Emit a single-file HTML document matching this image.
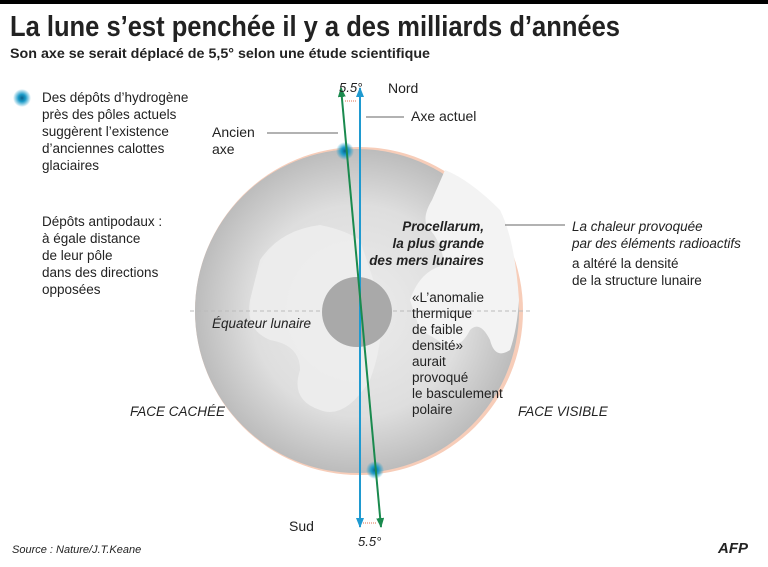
<!DOCTYPE html>
<html><head><meta charset="utf-8"><style>
body{margin:0;background:#fff;width:768px;height:567px;overflow:hidden}
svg{display:block}
text{font-family:"Liberation Sans",sans-serif;fill:#222}
</style></head><body>
<svg width="768" height="567" viewBox="0 0 768 567">
<defs>
<radialGradient id="moon" cx="0.5" cy="0.5" r="0.5">
<stop offset="0" stop-color="#ececec"/><stop offset="0.65" stop-color="#dedede"/><stop offset="1" stop-color="#bcbcbc"/>
</radialGradient>
<radialGradient id="glow"><stop offset="0" stop-color="#0a5f8a"/><stop offset="0.4" stop-color="#1a9ac8"/><stop offset="1" stop-color="#1a9ac8" stop-opacity="0"/></radialGradient>
<marker id="ab" markerWidth="10" markerHeight="8" refX="9" refY="4" orient="auto-start-reverse" markerUnits="userSpaceOnUse"><path d="M0,0 L10,4 L0,8 Z" fill="#1f9ad0"/></marker>
<marker id="ag" markerWidth="10" markerHeight="8" refX="9" refY="4" orient="auto-start-reverse" markerUnits="userSpaceOnUse"><path d="M0,0 L10,4 L0,8 Z" fill="#1a8a4e"/></marker>
</defs>
<rect x="0" y="0" width="768" height="4" fill="#000"/>
<text x="10" y="36" font-size="29" font-weight="bold" fill="#111" textLength="610" lengthAdjust="spacingAndGlyphs">La lune s’est penchée il y a des milliards d’années</text>
<text x="10" y="58" font-size="14" font-weight="bold" fill="#222" textLength="420" lengthAdjust="spacingAndGlyphs">Son axe se serait déplacé de 5,5° selon une étude scientifique</text>
<!-- moon -->
<circle cx="359" cy="311" r="164" fill="#f7cdb9"/>
<circle cx="357" cy="311" r="162" fill="url(#moon)"/>
<path d="M445,170 Q470,180 500,210 Q515,240 519,300 Q517,330 510,350 Q495,360 490,340 Q480,320 470,330 Q460,350 445,345 Q430,335 420,330 L410,300 Q420,270 445,265 Q440,240 430,230 Q420,220 432,200 Z" fill="#f3f3f3"/>
<path d="M260,260 Q280,230 320,225 Q345,230 360,240 Q370,270 380,300 Q385,340 370,380 Q345,420 320,410 Q290,400 300,370 Q300,345 270,340 Q245,330 250,300 Z" fill="#efefef" opacity="0.8"/>
<line x1="190" y1="311" x2="530" y2="311" stroke="#bbb" stroke-dasharray="4,3" stroke-width="1"/>
<circle cx="357" cy="312" r="35" fill="#a9a9a9"/>
<circle cx="345" cy="151" r="9" fill="url(#glow)"/>
<circle cx="375" cy="470" r="9" fill="url(#glow)"/>
<circle cx="22" cy="98" r="9" fill="url(#glow)"/>
<!-- axes -->
<line x1="360" y1="527" x2="360" y2="88" stroke="#1f9ad0" stroke-width="2" marker-end="url(#ab)" marker-start="url(#ab)"/>
<line x1="381" y1="527" x2="341" y2="88" stroke="#1a8a4e" stroke-width="2" marker-end="url(#ag)" marker-start="url(#ag)"/>
<line x1="345" y1="101" x2="357" y2="101" stroke="#e07050" stroke-dasharray="1,1"/>
<line x1="363" y1="523" x2="377" y2="523" stroke="#e07050" stroke-dasharray="1,1"/>
<text x="339" y="92" font-size="13" font-style="italic" fill="#888">5.5°</text>
<text x="358" y="546" font-size="13" font-style="italic" fill="#888">5.5°</text>
<text x="388" y="93" font-size="14">Nord</text>
<line x1="366" y1="117" x2="404" y2="117" stroke="#666"/>
<text x="411" y="121" font-size="14">Axe actuel</text>
<text x="212" y="137" font-size="14">Ancien</text><text x="212" y="154" font-size="14">axe</text>
<line x1="267" y1="133" x2="338" y2="133" stroke="#666"/>
<text x="289" y="531" font-size="14">Sud</text>
<g font-size="13.5">
<text x="42" y="102">Des dépôts d’hydrogène</text>
<text x="42" y="119">près des pôles actuels</text>
<text x="42" y="136">suggèrent l’existence</text>
<text x="42" y="153">d’anciennes calottes</text>
<text x="42" y="170">glaciaires</text>
<text x="42" y="226">Dépôts antipodaux :</text>
<text x="42" y="243">à égale distance</text>
<text x="42" y="260">de leur pôle</text>
<text x="42" y="277">dans des directions</text>
<text x="42" y="294">opposées</text>
</g>
<g font-size="13.5" font-style="italic" font-weight="bold" text-anchor="end">
<text x="484" y="231">Procellarum,</text>
<text x="484" y="248">la plus grande</text>
<text x="484" y="265">des mers lunaires</text>
</g>
<line x1="505" y1="225" x2="565" y2="225" stroke="#666"/>
<g font-size="13.5">
<text x="572" y="231" font-style="italic">La chaleur provoquée</text>
<text x="572" y="248" font-style="italic">par des éléments radioactifs</text>
<text x="572" y="268">a altéré la densité</text>
<text x="572" y="285">de la structure lunaire</text>
<text x="412" y="302">«L’anomalie</text>
<text x="412" y="318">thermique</text>
<text x="412" y="334">de faible</text>
<text x="412" y="350">densité»</text>
<text x="412" y="366">aurait</text>
<text x="412" y="382">provoqué</text>
<text x="412" y="398">le basculement</text>
<text x="412" y="414">polaire</text>
<text x="212" y="328" font-style="italic">Équateur lunaire</text>
<text x="130" y="416" font-style="italic">FACE CACHÉE</text>
<text x="518" y="416" font-style="italic">FACE VISIBLE</text>
</g>
<text x="12" y="553" font-size="11" font-style="italic">Source : Nature/J.T.Keane</text>
<text x="718" y="553" font-size="15" font-weight="bold" font-style="italic" fill="#1f6fb8">AFP</text>
</svg>
</body></html>
